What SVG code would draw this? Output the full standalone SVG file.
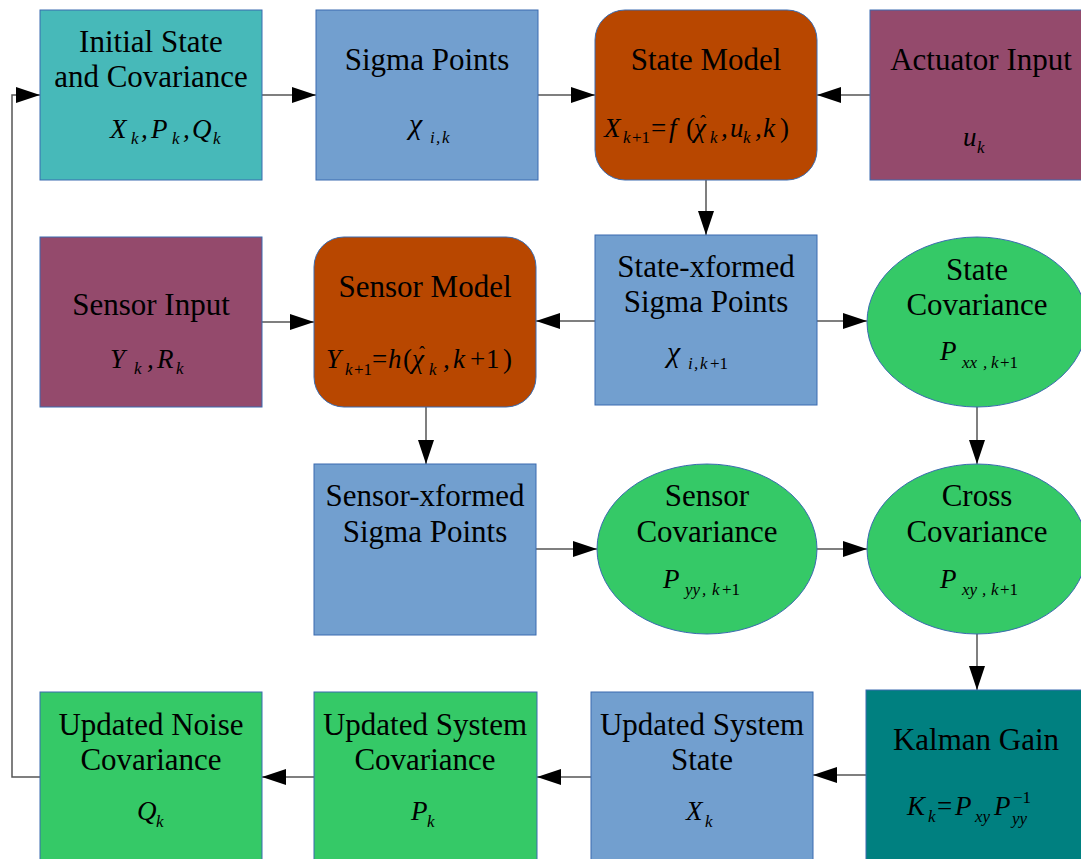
<svg xmlns="http://www.w3.org/2000/svg" width="1081" height="859" viewBox="0 0 1081 859">
<defs>
<style>
.box{stroke:#3a6bb0;stroke-width:1}
.teal{fill:#47b9b9}.blue{fill:#729fcf}.org{fill:#b84700}.pur{fill:#944a6c}.grn{fill:#35c967}.kal{fill:#008080}
.t{font-family:"Liberation Serif","Times New Roman",serif;font-size:31px;fill:#000;text-anchor:middle}
.m{font-family:"Liberation Serif","Times New Roman",serif;font-size:27px;font-style:italic;fill:#000}
.s{font-size:17px}
.n{font-style:normal}
.h{font-style:normal;font-size:18px}
.c{stroke:#555;stroke-width:1.5;fill:none}
</style>
<marker id="ah" viewBox="0 0 24 16" refX="24" refY="8" markerWidth="24" markerHeight="16" markerUnits="userSpaceOnUse" orient="auto"><path d="M0,0 L24,8 L0,16 z" fill="#000"/></marker>
</defs>
<rect width="1081" height="859" fill="#fff"/>

<g id="connectors">
<line class="c" x1="262" y1="95" x2="316" y2="95" marker-end="url(#ah)"/>
<line class="c" x1="538" y1="95" x2="595" y2="95" marker-end="url(#ah)"/>
<line class="c" x1="870" y1="95" x2="817" y2="95" marker-end="url(#ah)"/>
<line class="c" x1="706" y1="180" x2="706" y2="235" marker-end="url(#ah)"/>
<line class="c" x1="595" y1="321" x2="536" y2="321" marker-end="url(#ah)"/>
<line class="c" x1="817" y1="321" x2="867" y2="321" marker-end="url(#ah)"/>
<line class="c" x1="262" y1="322" x2="314" y2="322" marker-end="url(#ah)"/>
<line class="c" x1="426" y1="407" x2="426" y2="464" marker-end="url(#ah)"/>
<line class="c" x1="977" y1="407" x2="977" y2="464" marker-end="url(#ah)"/>
<line class="c" x1="536" y1="549" x2="597" y2="549" marker-end="url(#ah)"/>
<line class="c" x1="817" y1="549" x2="867" y2="549" marker-end="url(#ah)"/>
<line class="c" x1="977" y1="634" x2="977" y2="690" marker-end="url(#ah)"/>
<line class="c" x1="866" y1="775" x2="813" y2="775" marker-end="url(#ah)"/>
<line class="c" x1="591" y1="777" x2="537" y2="777" marker-end="url(#ah)"/>
<line class="c" x1="314" y1="777" x2="262" y2="777" marker-end="url(#ah)"/>
<polyline class="c" points="40,777 12,777 12,95 40,95" marker-end="url(#ah)"/>
</g>

<g id="initial">
<rect class="box teal" x="40" y="10" width="222" height="170"/>
<text class="t" x="151" y="52">Initial State</text>
<text class="t" x="151" y="87">and Covariance</text>
<text class="m"><tspan x="110" y="138">X</tspan><tspan class="s" x="131" y="144">k</tspan><tspan x="141" y="138">,</tspan><tspan x="151" y="138">P</tspan><tspan class="s" x="172" y="144">k</tspan><tspan x="183" y="138">,</tspan><tspan x="192" y="138">Q</tspan><tspan class="s" x="213" y="144">k</tspan></text>
</g>

<g id="sigma">
<rect class="box blue" x="316" y="10" width="222" height="170"/>
<text class="t" x="427" y="70">Sigma Points</text>
<text class="m"><tspan x="409" y="134" font-size="30">χ</tspan><tspan class="s" x="430" y="143">i</tspan><tspan class="s" x="436" y="143">,</tspan><tspan class="s" x="442" y="143">k</tspan></text>
</g>

<g id="statemodel">
<rect class="box org" x="595" y="10" width="222" height="170" rx="30"/>
<text class="t" x="706" y="70">State Model</text>
<text class="m" font-size="25"><tspan x="604" y="137">X</tspan><tspan class="s" x="623" y="143">k</tspan><tspan class="s n" x="632" y="143">+1</tspan><tspan class="n" x="651" y="137">=</tspan><tspan x="669" y="137">f</tspan><tspan class="n" x="686" y="137">(</tspan><tspan x="694" y="137">χ</tspan><tspan class="h" x="700" y="128">ˆ</tspan><tspan class="s" x="710" y="143">k</tspan><tspan x="721" y="137">,</tspan><tspan x="730" y="137">u</tspan><tspan class="s" x="743" y="143">k</tspan><tspan x="755" y="137">,</tspan><tspan x="763" y="137">k</tspan><tspan class="n" x="780" y="137">)</tspan></text>
</g>

<g id="actuator">
<rect class="box pur" x="870" y="10" width="215" height="170"/>
<text class="t" x="981" y="70">Actuator Input</text>
<text class="m" font-size="28"><tspan x="963" y="146">u</tspan><tspan class="s" x="977" y="153">k</tspan></text>
</g>

<g id="sensorinput">
<rect class="box pur" x="40" y="237" width="222" height="170"/>
<text class="t" x="151" y="315">Sensor Input</text>
<text class="m"><tspan x="110" y="368">Y</tspan><tspan class="s" x="134" y="374">k</tspan><tspan x="147" y="368">,</tspan><tspan x="157" y="368">R</tspan><tspan class="s" x="176" y="374">k</tspan></text>
</g>

<g id="sensormodel">
<rect class="box org" x="314" y="237" width="222" height="170" rx="30"/>
<text class="t" x="425" y="297">Sensor Model</text>
<text class="m" font-size="26"><tspan x="326" y="368">Y</tspan><tspan class="s" x="345" y="375">k</tspan><tspan class="s n" x="354" y="375">+1</tspan><tspan class="n" x="372" y="368">=</tspan><tspan x="388" y="368">h</tspan><tspan class="n" x="403" y="368">(</tspan><tspan x="412" y="368">χ</tspan><tspan class="h" x="419" y="359">ˆ</tspan><tspan class="s" x="429" y="375">k</tspan><tspan x="443" y="368">,</tspan><tspan x="453" y="368">k</tspan><tspan class="n" x="470" y="368">+</tspan><tspan class="n" x="486" y="368">1</tspan><tspan class="n" x="503" y="368">)</tspan></text>
</g>

<g id="statexformed">
<rect class="box blue" x="595" y="235" width="222" height="170"/>
<text class="t" x="706" y="277">State-xformed</text>
<text class="t" x="706" y="312">Sigma Points</text>
<text class="m"><tspan x="667" y="362" font-size="30">χ</tspan><tspan class="s" x="688" y="369">i</tspan><tspan class="s" x="694" y="369">,</tspan><tspan class="s" x="700" y="369">k</tspan><tspan class="s n" x="710" y="369">+1</tspan></text>
</g>

<g id="statecov">
<ellipse class="box grn" cx="977" cy="322" rx="110" ry="85"/>
<text class="t" x="977" y="280">State</text>
<text class="t" x="977" y="315">Covariance</text>
<text class="m" font-size="28"><tspan x="940" y="360">P</tspan><tspan class="s" x="962" y="368">xx</tspan><tspan class="s" x="983" y="368">,</tspan><tspan class="s" x="991" y="368">k</tspan><tspan class="s n" x="1000" y="368">+1</tspan></text>
</g>

<g id="sensorxformed">
<rect class="box blue" x="314" y="464" width="222" height="171"/>
<text class="t" x="425" y="506">Sensor-xformed</text>
<text class="t" x="425" y="542">Sigma Points</text>
</g>

<g id="sensorcov">
<ellipse class="box grn" cx="707" cy="549" rx="110" ry="85"/>
<text class="t" x="707" y="506">Sensor</text>
<text class="t" x="707" y="542">Covariance</text>
<text class="m" font-size="28"><tspan x="663" y="588">P</tspan><tspan class="s" x="685" y="595">yy</tspan><tspan class="s" x="702" y="595">,</tspan><tspan class="s" x="712" y="595">k</tspan><tspan class="s n" x="722" y="595">+1</tspan></text>
</g>

<g id="crosscov">
<ellipse class="box grn" cx="977" cy="549" rx="110" ry="85"/>
<text class="t" x="977" y="506">Cross</text>
<text class="t" x="977" y="542">Covariance</text>
<text class="m" font-size="28"><tspan x="940" y="588">P</tspan><tspan class="s" x="962" y="595">xy</tspan><tspan class="s" x="982" y="595">,</tspan><tspan class="s" x="991" y="595">k</tspan><tspan class="s n" x="1000" y="595">+1</tspan></text>
</g>

<g id="kalman">
<rect class="box kal" x="866" y="690" width="220" height="175"/>
<text class="t" x="976" y="750">Kalman Gain</text>
<text class="m" font-size="28"><tspan x="907" y="815">K</tspan><tspan class="s" x="928" y="822">k</tspan><tspan class="n" x="937" y="815">=</tspan><tspan x="955" y="815">P</tspan><tspan class="s" x="975" y="822">xy</tspan><tspan x="994" y="815">P</tspan><tspan class="s" x="1012" y="824">yy</tspan><tspan class="s n" x="1013" y="803">−1</tspan></text>
</g>

<g id="updstate">
<rect class="box blue" x="591" y="692" width="222" height="170"/>
<text class="t" x="702" y="735">Updated System</text>
<text class="t" x="702" y="770">State</text>
<text class="m"><tspan x="686" y="820">X</tspan><tspan class="s" x="705" y="827">k</tspan></text>
</g>

<g id="updsyscov">
<rect class="box grn" x="314" y="692" width="223" height="170"/>
<text class="t" x="425" y="735">Updated System</text>
<text class="t" x="425" y="770">Covariance</text>
<text class="m"><tspan x="411" y="820">P</tspan><tspan class="s" x="427" y="827">k</tspan></text>
</g>

<g id="updnoise">
<rect class="box grn" x="40" y="692" width="222" height="170"/>
<text class="t" x="151" y="735">Updated Noise</text>
<text class="t" x="151" y="770">Covariance</text>
<text class="m"><tspan x="137" y="820">Q</tspan><tspan class="s" x="156" y="827">k</tspan></text>
</g>
</svg>
